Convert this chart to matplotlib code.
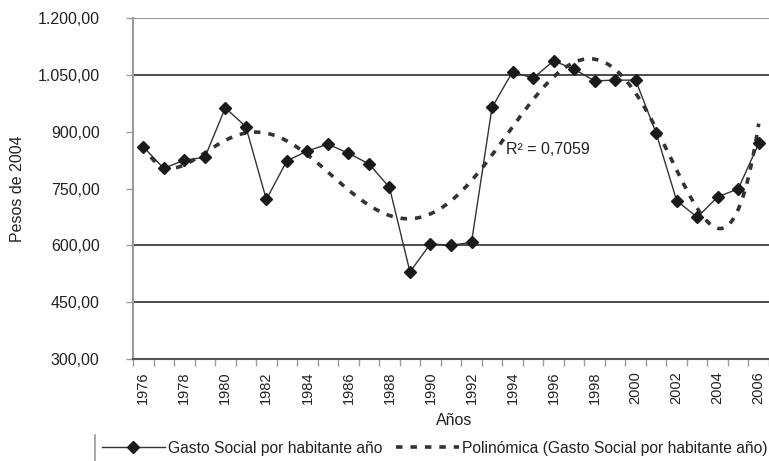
import numpy as np
import matplotlib.pyplot as plt
from matplotlib.lines import Line2D
from matplotlib.ticker import FuncFormatter, MultipleLocator

plt.rcParams['font.family'] = ['Liberation Sans', 'DejaVu Sans']

# Datos: gasto social por habitante (pesos de 2004)
anios = list(range(1976, 2007))
gasto = [860, 803, 825, 832, 963, 913, 721, 823, 849, 867, 843, 815, 753,
         530, 604, 600, 608, 964, 1058, 1041, 1087, 1065, 1034, 1036, 1036,
         896, 718, 674, 728, 749, 869]
etiquetas_x = [str(a) for a in anios[::2]]
r2_texto = "R² = 0,7059"

# Tendencia polinómica (orden 6), como la línea de tendencia de Excel
poli = np.polynomial.Polynomial.fit(anios, gasto, 6)
xs = np.linspace(anios[0], anios[-1], 300)
ys = poli(xs)

fig = plt.figure(figsize=(7.69, 4.61), dpi=100)
ax = fig.add_axes([133 / 769, 102 / 461, 1 - 133 / 769, 341 / 461])

gris = '#9a9a9a'
texto = '#222222'

for v in [450, 600, 1050]:
    ax.axhline(v, color='#1a1a1a', lw=1.1, zorder=1)
ax.axhline(1200, color=gris, lw=1.5, zorder=1)

ax.plot(xs, ys, color='#333333', lw=2.6, ls=(0, (1.8, 2.2)), zorder=2)
ax.plot(anios, gasto, color='#333333', lw=1, marker='D', ms=6,
        mfc='#1a1a1a', mec='#1a1a1a', zorder=3)

ax.set_xlim(1975.5, 2006.29)
ax.set_ylim(300, 1200)

for s in ['top', 'right']:
    ax.spines[s].set_visible(False)
ax.spines['left'].set_color(gris)
ax.spines['left'].set_linewidth(1.5)
ax.spines['bottom'].set_color('#555555')
ax.spines['bottom'].set_linewidth(1.5)

ax.yaxis.set_major_locator(MultipleLocator(150))
ax.yaxis.set_major_formatter(FuncFormatter(
    lambda v, p: f"{v:,.2f}".replace(',', 'X').replace('.', ',').replace('X', '.')))
ax.tick_params(axis='y', length=5, width=1, color=gris, pad=19,
               labelsize=11.5, labelcolor=texto)

ax.set_xticks(anios[::2])
ax.set_xticklabels(etiquetas_x, rotation=90)
ax.set_xticks([a - 0.5 for a in anios] + [anios[-1] + 0.5], minor=True)
ax.tick_params(axis='x', which='major', length=0, pad=9,
               labelsize=10.5, labelcolor=texto)
ax.tick_params(axis='x', which='minor', length=5, width=1, color=gris)

ax.text(1993.7, 854, r2_texto, fontsize=11.5, color=texto,
        ha='left', va='center')

fig.text(18 / 769, 1 - 189 / 461, "Pesos de 2004", rotation=90,
         ha='center', va='center', fontsize=11.5, color=texto)
fig.text(454 / 769, 1 - 420 / 461, "Años", ha='center', va='center',
         fontsize=11.5, color=texto)

# Leyenda
fig.add_artist(Line2D([95 / 769, 95 / 769], [0, 1 - 435 / 461],
                      color=gris, lw=1.2))
h1 = Line2D([], [], color='#333333', lw=1, marker='D', ms=6,
            mfc='#1a1a1a', mec='#1a1a1a')
h2 = Line2D([], [], color='#333333', lw=2.6, ls=(0, (1.8, 2.2)))
fig.legend([h1, h2], ["Gasto Social por habitante año",
                      "Polinómica (Gasto Social por habitante año)"],
           loc='center left', bbox_to_anchor=(102 / 769, 1 - 448 / 461),
           ncol=2, frameon=False, borderpad=0, borderaxespad=0,
           handlelength=4.0, handletextpad=0.2, columnspacing=0.9,
           fontsize=11.25, labelcolor=texto)

fig.savefig('out.png', dpi=100)
